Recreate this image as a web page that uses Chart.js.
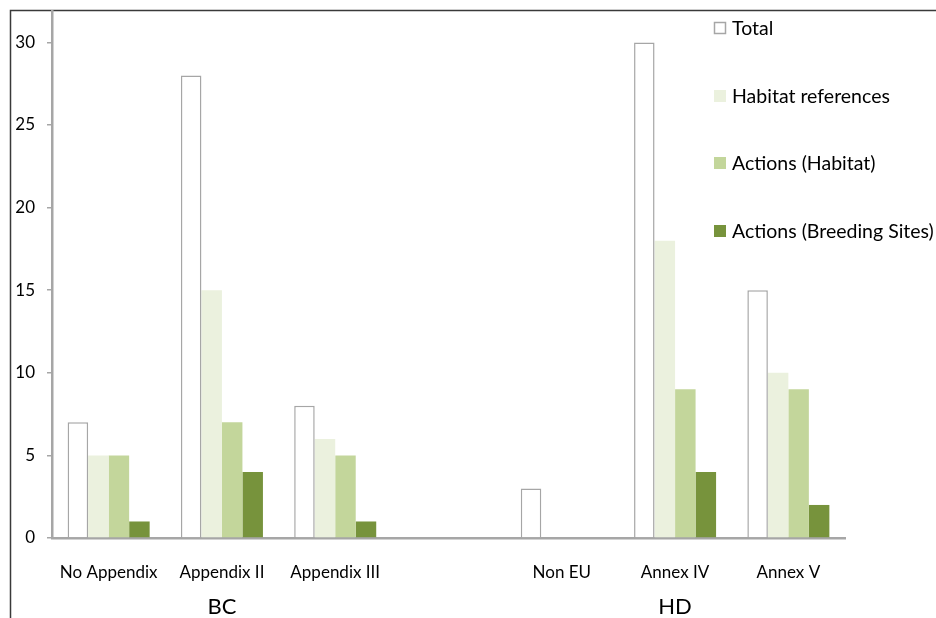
<!DOCTYPE html>
<html>
<head>
<meta charset="utf-8">
<script src="https://cdn.jsdelivr.net/npm/chart.js@4.4.1/dist/chart.umd.min.js"></script>
<style>
    html, body { margin: 0; padding: 0; background: #fff; overflow: hidden; }
    canvas { display: block; }
</style>
</head>
<body>
<canvas id="speciesChart" width="936" height="618"></canvas>
<script>
// categories (the empty one is the gap between BC and HD)
const categories = ["No Appendix", "Appendix II", "Appendix III", "", "Non EU", "Annex IV", "Annex V"];
const groupLabels = ["BC", "HD"];
const groupCentres = [1, 5]; // category index under which each group label sits

// series values
const totals = [7, 28, 8, null, 3, 30, 15];
const habitatRefs = [5, 15, 6, null, 0, 18, 10];
const actionsHabitat = [5, 7, 5, null, 0, 9, 9];
const actionsBreeding = [1, 4, 1, null, 0, 4, 2];

// y tick labels
const yTicks = [0, 5, 10, 15, 20, 25, 30];

const FONT = "Lato, 'Open Sans', sans-serif";

// frame round the picture + group labels + legend
const extrasPlugin = {
    id: "extras",
    beforeDraw(chart) {
        const ctx = chart.ctx;
        ctx.save();
        ctx.strokeStyle = "#3a3a3a";
        ctx.lineWidth = 1.5;
        ctx.beginPath();
        ctx.moveTo(10.5, 618);
        ctx.lineTo(10.5, 10.5);
        ctx.lineTo(936, 10.5);
        ctx.stroke();
        ctx.restore();
    },
    afterDraw(chart) {
        const ctx = chart.ctx;
        const x = chart.scales.x;
        ctx.save();

        // group labels under the category labels
        ctx.fillStyle = "#000";
        ctx.font = "22px " + FONT;
        ctx.textAlign = "center";
        ctx.textBaseline = "middle";
        groupLabels.forEach((g, i) => {
            ctx.fillText(g, x.getPixelForValue(groupCentres[i]), 607);
        });

        // legend, stacked on the right over the plot
        ctx.font = "19.5px " + FONT;
        ctx.textAlign = "left";
        const rowsY = [28, 96, 163, 231];
        chart.data.datasets.forEach((ds, i) => {
            const y = rowsY[i];
            ctx.fillStyle = ds.backgroundColor;
            ctx.fillRect(714, y - 6, 12, 12);
            if (ds.borderWidth) {
                ctx.strokeStyle = ds.borderColor;
                ctx.lineWidth = 1.5;
                ctx.strokeRect(714.5, y - 5.5, 11, 11);
            }
            ctx.fillStyle = "#000";
            ctx.fillText(ds.label, 732, y + 1);
        });
        ctx.restore();
    },
};

const speciesChart = new Chart(document.getElementById("speciesChart").getContext("2d"), {
    type: "bar",
    data: {
        labels: categories,
        datasets: [
            {
                label: "Total",
                data: totals,
                backgroundColor: "#ffffff",
                borderColor: "#a6a6a6",
                borderWidth: 1.5,
            },
            {
                label: "Habitat references",
                data: habitatRefs,
                backgroundColor: "#ebf1de",
                borderWidth: 0,
            },
            {
                label: "Actions (Habitat)",
                data: actionsHabitat,
                backgroundColor: "#c3d69b",
                borderWidth: 0,
            },
            {
                label: "Actions (Breeding Sites)",
                data: actionsBreeding,
                backgroundColor: "#77933c",
                borderWidth: 0,
            },
        ],
    },
    options: {
        responsive: false,
        animation: false,
        devicePixelRatio: 1,
        layout: { padding: { top: 11, right: 91, left: 0, bottom: 0 } },
        datasets: {
            bar: { categoryPercentage: 0.724, barPercentage: 1 },
        },
        scales: {
            x: {
                grid: { display: false },
                border: { display: true, color: "#a6a6a6", width: 2.5 },
                ticks: {
                    color: "#000",
                    font: { family: FONT, size: 17 },
                    padding: 16,
                    maxRotation: 0,
                    autoSkip: false,
                },
                afterFit: (scale) => {
                    scale.height = 80;
                    scale.paddingLeft = 0;
                    scale.paddingRight = 0;
                },
            },
            y: {
                min: 0,
                max: 31.9,
                grid: { drawOnChartArea: false, drawTicks: true, tickLength: 5, color: "#a6a6a6", lineWidth: 1.5 },
                border: { display: true, color: "#a6a6a6", width: 2.5 },
                ticks: {
                    color: "#000",
                    font: { family: FONT, size: 17 },
                    padding: 12,
                },
                afterBuildTicks: (scale) => {
                    scale.ticks = yTicks.map((v) => ({ value: v }));
                },
                afterFit: (scale) => {
                    scale.width = 52;
                    scale.paddingTop = 0;
                    scale.paddingBottom = 0;
                },
            },
        },
        plugins: {
            legend: { display: false },
            tooltip: { enabled: false },
        },
    },
    plugins: [extrasPlugin],
});
</script>
</body>
</html>
